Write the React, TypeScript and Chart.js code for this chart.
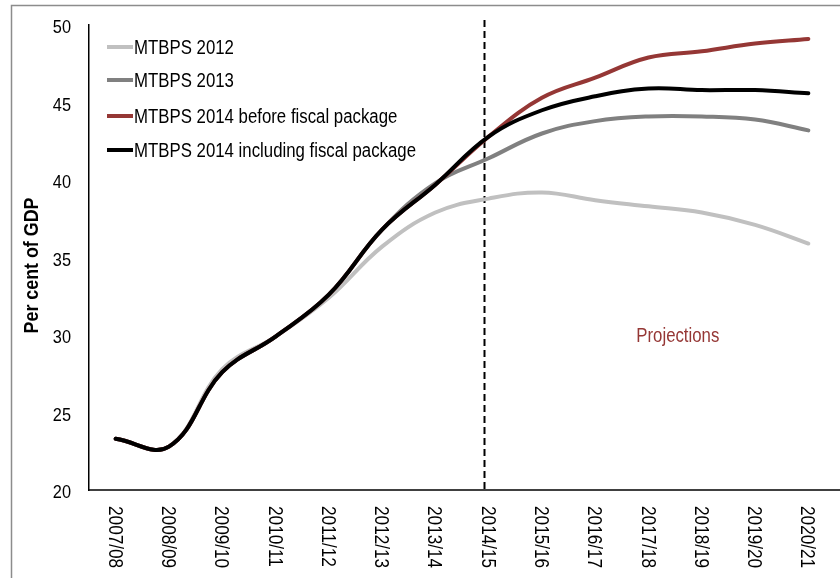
import { useEffect, useRef } from "react";
import { Chart, registerables } from "chart.js";

Chart.register(...registerables);

const categories = [
  "2007/08", "2008/09", "2009/10", "2010/11", "2011/12", "2012/13", "2013/14",
  "2014/15", "2015/16", "2016/17", "2017/18", "2018/19", "2019/20", "2020/21",
];
const mtbps2012 = [23.3, 22.8, 27.8, 29.9, 32.4, 35.7, 37.9, 38.8, 39.2, 38.7, 38.3, 37.9, 37.1, 35.9];
const mtbps2013 = [23.3, 22.8, 27.6, 29.9, 32.6, 36.8, 39.8, 41.4, 43.0, 43.8, 44.1, 44.1, 43.9, 43.2];
const mtbps2014Before = [23.3, 22.8, 27.6, 29.9, 32.6, 36.8, 39.7, 42.8, 45.3, 46.6, 47.9, 48.3, 48.8, 49.1];
const mtbps2014Incl = [23.3, 22.8, 27.6, 29.9, 32.6, 36.8, 39.7, 42.8, 44.5, 45.4, 45.9, 45.8, 45.8, 45.6];
const yTicks = [20, 25, 30, 35, 40, 45, 50];
const seriesNames = [
  "MTBPS 2012",
  "MTBPS 2013",
  "MTBPS 2014 before fiscal package",
  "MTBPS 2014 including fiscal package",
];
const seriesColors = ["#c0c0c0", "#808080", "#953735", "#000000"];
const yTitle = "Per cent of GDP";
const projectionsLabel = "Projections";
const projectionStartIndex = 7;

const FONT = "'Liberation Sans', Arial, sans-serif";

function scaledText(ctx: any, text: string, x: number, y: number, sx: number, rot = 0) {
  ctx.save();
  ctx.translate(x, y);
  if (rot) ctx.rotate(rot);
  ctx.scale(sx, 1);
  ctx.fillText(text, 0, 0);
  ctx.restore();
}

const overlay = {
  id: "overlay",
  beforeDraw(chart: any) {
    const ctx = chart.ctx;
    ctx.save();
    ctx.strokeStyle = "#8c8c8c";
    ctx.lineWidth = 1.5;
    ctx.strokeRect(11.5, 5.5, 1000, 1000);
    ctx.restore();
  },
  beforeDatasetsDraw(chart: any) {
    const ctx = chart.ctx;
    const xs = chart.scales.x;
    const x = Math.round(xs.getPixelForValue(projectionStartIndex - 0.08)) + 0.5;
    ctx.save();
    ctx.strokeStyle = "#000";
    ctx.lineWidth = 2;
    ctx.setLineDash([7, 4]);
    ctx.beginPath();
    ctx.moveTo(x, 20);
    ctx.lineTo(x, chart.chartArea.bottom);
    ctx.stroke();
    ctx.restore();
  },
  afterDraw(chart: any) {
    const ctx = chart.ctx;
    const xs = chart.scales.x;
    const ys = chart.scales.y;
    const area = chart.chartArea;
    ctx.save();
    // extend x-axis line to the right edge
    ctx.strokeStyle = "#000";
    ctx.lineWidth = 1.5;
    ctx.beginPath();
    ctx.moveTo(area.left, area.bottom);
    ctx.lineTo(chart.width, area.bottom);
    ctx.stroke();
    ctx.textBaseline = "alphabetic";
    // y tick labels
    ctx.fillStyle = "#000";
    ctx.font = `19px ${FONT}`;
    ctx.textAlign = "right";
    yTicks.forEach((v) => {
      scaledText(ctx, String(v), area.left - 18, ys.getPixelForValue(v) + 8, 0.86);
    });
    // y title
    ctx.font = `bold 21px ${FONT}`;
    ctx.textAlign = "center";
    scaledText(ctx, yTitle, 38, (area.top + area.bottom) / 2 + 8, 0.85, -Math.PI / 2);
    // rotated x labels (reading top to bottom)
    ctx.font = `20px ${FONT}`;
    ctx.textAlign = "left";
    categories.forEach((c, i) => {
      const x = xs.getPixelForTick(i);
      ctx.save();
      ctx.translate(x, area.bottom + 16);
      ctx.rotate(Math.PI / 2);
      ctx.scale(0.86, 1);
      ctx.fillText(c, 0, 7);
      ctx.restore();
    });
    // projections label
    ctx.fillStyle = "#953735";
    ctx.font = `20px ${FONT}`;
    ctx.textAlign = "center";
    scaledText(ctx, projectionsLabel, xs.getPixelForValue(10.55), ys.getPixelForValue(30) + 7, 0.84);
    // legend
    const rows = [47, 80, 116, 150];
    ctx.textAlign = "left";
    ctx.font = `20px ${FONT}`;
    seriesNames.forEach((n, i) => {
      ctx.strokeStyle = seriesColors[i];
      ctx.lineWidth = 4;
      ctx.beginPath();
      ctx.moveTo(107, rows[i]);
      ctx.lineTo(133, rows[i]);
      ctx.stroke();
      ctx.fillStyle = "#000";
      scaledText(ctx, n, 134, rows[i] + 7, 0.84);
    });
    ctx.restore();
  },
};

export default function App() {
  const ref = useRef<HTMLCanvasElement>(null);
  useEffect(() => {
    if (!ref.current) return;
    const all = [mtbps2012, mtbps2013, mtbps2014Before, mtbps2014Incl];
    const chart = new Chart(ref.current, {
      type: "line",
      data: {
        labels: categories,
        datasets: all.map((d, i) => ({
          label: seriesNames[i],
          data: d,
          borderColor: seriesColors[i],
          backgroundColor: seriesColors[i],
          borderWidth: 4,
          pointRadius: 0,
          tension: 0.4,
          borderCapStyle: "round" as const,
          order: 3 - i,
        })),
      },
      options: {
        animation: false,
        responsive: false,
        layout: { padding: { left: 0, top: 25, right: 5, bottom: 0 } },
        plugins: {
          legend: { display: false },
          tooltip: { enabled: false },
        },
        scales: {
          x: {
            type: "category",
            offset: true,
            grid: { display: false, drawTicks: false },
            border: { display: false },
            ticks: { display: false },
            afterFit: (s: any) => { s.height = 88; },
          },
          y: {
            min: 20,
            max: 50,
            grid: { display: false, drawTicks: false },
            border: { display: true, color: "#000", width: 1.5 },
            ticks: { display: false, stepSize: 5 },
            afterFit: (s: any) => { s.width = 89; },
          },
        },
      },
      plugins: [overlay],
    });
    return () => chart.destroy();
  }, []);
  return (
    <div style={{ position: "absolute", left: 0, top: 0, width: 840, height: 578 }}>
      <canvas ref={ref} width={840} height={578} />
    </div>
  );
}
